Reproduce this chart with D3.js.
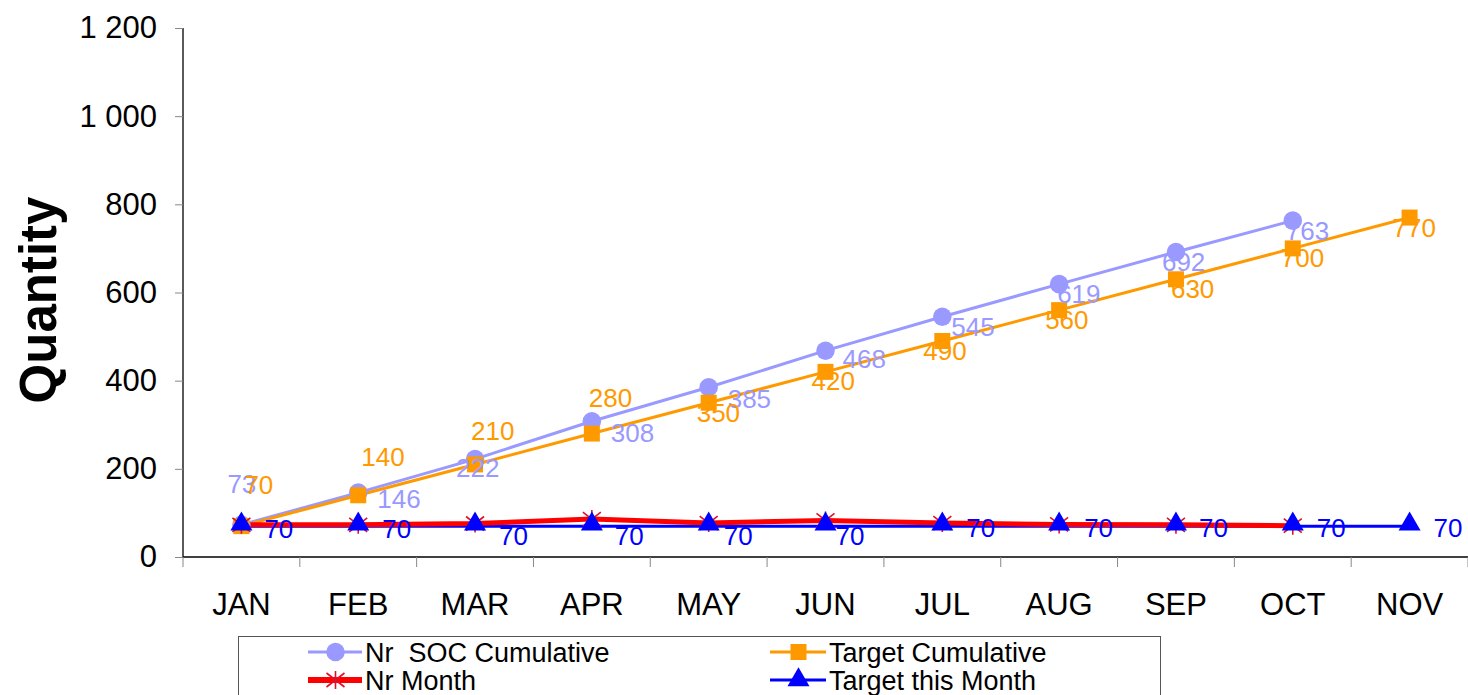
<!DOCTYPE html>
<html><head><meta charset="utf-8">
<script src="https://cdn.jsdelivr.net/npm/d3@7"></script>
<style>body{margin:0;background:#fff;}svg{display:block;font-family:"Liberation Sans",Arial,sans-serif;}</style>
</head><body>
<svg id="c" width="1468" height="695"></svg>
<script>
const months = ["JAN","FEB","MAR","APR","MAY","JUN","JUL","AUG","SEP","OCT","NOV"];
const socCumulative = [73,146,222,308,385,468,545,619,692,763];
const targetCumulative = [70,140,210,280,350,420,490,560,630,700,770];
const nrMonth = [73,73,76,86,77,83,77,74,73,71];
const targetMonth = [70,70,70,70,70,70,70,70,70,70,70];
const yTicks = [0,200,400,600,800,1000,1200];

// label offsets (layout only)
const socLabelOff = [[-14,-32],[19,15],[-19,18],[19,21],[19,21],[17,17],[9,19],[-2,19],[-14,19],[-7,19]];
const tcLabelOff = [[3,-32],[3,-29],[-4,-24],[-3,-27],[-12,19],[-14,18],[-19,19],[-14,19],[-5,19],[-12,19],[-17,19]];
const tmLabelOff = [[23,12],[24,12],[24,19],[23,19],[15,19],[10,19],[24,11],[25,11],[23,11],[24,11],[24,11]];

const svg = d3.select("#c");
const x = d3.scaleBand().domain(months).range([183,1468]).padding(0);
const y = d3.scaleLinear().domain([0,1200]).range([557,28]);
const cx = m => x(m) + x.bandwidth()/2;

// axes
const yAxis = svg.append("g").attr("transform","translate(183,0)")
  .call(d3.axisLeft(y).tickValues(yTicks).tickSize(8).tickPadding(18)
    .tickFormat(d => d3.format(",")(d).replace(/,/g," ")));
yAxis.select(".domain").attr("stroke","#000").attr("stroke-width",1.3).attr("d","M0,28V557");
yAxis.selectAll(".tick line").attr("stroke","#888");
yAxis.selectAll(".tick text").attr("font-size",31).attr("fill","#000").attr("font-family","Liberation Sans, Arial, sans-serif");

const xAxis = svg.append("g").attr("transform","translate(0,557)")
  .call(d3.axisBottom(x).tickSize(0).tickPadding(36));
xAxis.select(".domain").attr("stroke","#000").attr("stroke-width",1.3).attr("d","M183,0H1468");
xAxis.selectAll(".tick text").attr("font-size",31).attr("fill","#000").attr("font-family","Liberation Sans, Arial, sans-serif");
// x tick marks at band boundaries
svg.append("g").selectAll("line").data(months.concat(["_end"])).join("line")
  .attr("x1",(d,i)=>183+i*x.bandwidth()).attr("x2",(d,i)=>183+i*x.bandwidth())
  .attr("y1",557).attr("y2",567).attr("stroke","#888").attr("stroke-width",1);

svg.append("text").attr("transform","translate(56,300) rotate(-90)")
  .attr("text-anchor","middle").attr("font-size",51).attr("font-weight","bold").text("Quantity");

const line = d3.line().x((d,i)=>cx(months[i])).y(d=>y(d));

// series lines
svg.append("path").datum(socCumulative).attr("d",line).attr("fill","none").attr("stroke","#9999FF").attr("stroke-width",3);
svg.append("path").datum(targetCumulative).attr("d",line).attr("fill","none").attr("stroke","#FF9900").attr("stroke-width",3);
svg.append("path").datum(targetMonth).attr("d",line).attr("fill","none").attr("stroke","#0000FF").attr("stroke-width",3);
svg.append("path").datum(nrMonth).attr("d",line).attr("fill","none").attr("stroke","#FF0000").attr("stroke-width",5);

// markers
const circ = d3.symbol().type(d3.symbolCircle).size(270);
const sq = d3.symbol().type(d3.symbolSquare).size(256);
const tri = d3.symbol().type(d3.symbolTriangle).size(210);
const starPath = "M0,-9V9M-9,-7L9,7M-9,7L9,-7";

svg.append("g").selectAll("path").data(socCumulative).join("path")
  .attr("d",circ).attr("transform",(d,i)=>`translate(${cx(months[i])},${y(d)})`).attr("fill","#9999FF");
svg.append("g").selectAll("path").data(targetCumulative).join("path")
  .attr("d",sq).attr("transform",(d,i)=>`translate(${cx(months[i])},${y(d)})`).attr("fill","#FF9900");
svg.append("g").selectAll("path").data(nrMonth).join("path")
  .attr("d",starPath).attr("transform",(d,i)=>`translate(${cx(months[i])},${y(d)})`).attr("fill","none").attr("stroke","#E0102A").attr("stroke-width",1.6);
svg.append("g").selectAll("path").data(targetMonth).join("path")
  .attr("d",tri).attr("transform",(d,i)=>`translate(${cx(months[i])},${y(d)-2})`).attr("fill","#0000FF");

// data labels
function labels(data, off, color){
  svg.append("g").selectAll("text").data(data).join("text")
    .attr("x",(d,i)=>cx(months[i])+off[i][0]).attr("y",(d,i)=>y(d)+off[i][1])
    .attr("font-size",26).attr("fill",color).text(d=>d);
}
labels(socCumulative, socLabelOff, "#9999FF");
labels(targetCumulative, tcLabelOff, "#FF9900");
labels(targetMonth, tmLabelOff, "#0000FF");

// legend
const lg = svg.append("g");
lg.append("rect").attr("x",238.5).attr("y",636.5).attr("width",922).attr("height",80)
  .attr("fill","#fff").attr("stroke","#555").attr("stroke-width",1);
const legendItems = [
  {name:"Nr  SOC Cumulative", color:"#9999FF", sym:"circ", w:3, lx:308, ly:652, tx:365},
  {name:"Target Cumulative", color:"#FF9900", sym:"sq", w:3, lx:770, ly:652, tx:829},
  {name:"Nr Month", color:"#FF0000", sym:"star", w:6, lx:308, ly:680, tx:365},
  {name:"Target this Month", color:"#0000FF", sym:"tri", w:3, lx:770, ly:680, tx:829}
];
legendItems.forEach(it=>{
  const mx = (it.lx + it.tx)/2 - 1;
  lg.append("line").attr("x1",it.lx).attr("x2",it.tx-3).attr("y1",it.ly).attr("y2",it.ly)
    .attr("stroke",it.color).attr("stroke-width",it.w);
  const p = lg.append("path").attr("transform",`translate(${mx},${it.ly})`);
  if(it.sym==="circ") p.attr("d",circ).attr("fill",it.color);
  else if(it.sym==="sq") p.attr("d",sq).attr("fill",it.color);
  else if(it.sym==="tri") p.attr("d",tri).attr("fill",it.color);
  else p.attr("d",starPath).attr("fill","none").attr("stroke","#E0102A").attr("stroke-width",1.6);
  lg.append("text").attr("x",it.tx).attr("y",it.ly+10).attr("font-size",27).attr("fill","#000")
    .style("white-space","pre").text(it.name);
});
</script>
</body></html>
